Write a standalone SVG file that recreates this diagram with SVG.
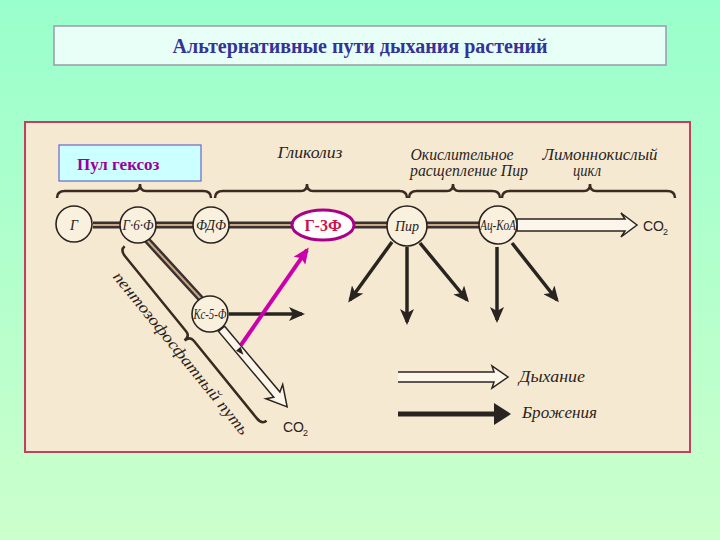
<svg xmlns="http://www.w3.org/2000/svg" width="720" height="540" viewBox="0 0 720 540">
<defs>
<linearGradient id="bg" x1="0" y1="0" x2="0" y2="1">
<stop offset="0" stop-color="#99FFCC"/>
<stop offset="1" stop-color="#CCFFCC"/>
</linearGradient>
<marker id="ah" markerUnits="userSpaceOnUse" markerWidth="16" markerHeight="14" refX="13" refY="7" orient="auto">
<path d="M0 0 L16 7 L0 14 L4 7 Z" fill="#2a2420"/>
</marker>
<marker id="mh" markerUnits="userSpaceOnUse" markerWidth="16" markerHeight="14" refX="13" refY="7" orient="auto">
<path d="M0 0 L16 7 L0 14 L3 7 Z" fill="#CC00AA"/>
</marker>
<style>
.lbl{font-family:"Liberation Serif","DejaVu Serif",serif;font-style:italic;fill:#2a2420}
.nd{fill:#FAF0DE;stroke:#2a2420;stroke-width:1.6}
.ntx{font-family:"Liberation Serif","DejaVu Serif",serif;font-style:italic;font-size:14px;fill:#2a2420;text-anchor:middle}
.brace{fill:none;stroke:#3a2a20;stroke-width:2.5}
.main{fill:none;stroke:#3a3030;stroke-width:7}
.inner{fill:none;stroke:#c8a882;stroke-width:2}
.dark{fill:none;stroke:#2a2420;stroke-width:3.5;marker-end:url(#ah)}
.hol{fill:#FCF6EA;stroke:#2a2420;stroke-width:1.5}
.co{font-family:"Liberation Sans Narrow","Liberation Sans",sans-serif;font-size:14px;fill:#2a2420}
.sub{font-family:"Liberation Sans Narrow","Liberation Sans",sans-serif;font-size:9px;fill:#2a2420}
</style>
</defs>
<rect x="0" y="0" width="720" height="540" fill="url(#bg)"/>

<g id="title">
<rect x="54" y="26" width="612" height="39" fill="#E8FFF8" stroke="#9a9aaa" stroke-width="1.5"/>
<text x="360" y="53" text-anchor="middle" font-family="Liberation Serif, DejaVu Serif, serif" font-weight="bold" font-size="20" fill="#333399">Альтернативные пути дыхания растений</text>
</g>

<g id="panel">
<rect x="25" y="122" width="665" height="330" fill="#F6E9D2" stroke="#C04060" stroke-width="2"/>
</g>

<g id="braces">
<path class="brace" d="M57 198 Q57 191 65 191 L134 191 Q140 191 140 184 Q140 191 146 191 L203 191 Q211 191 211 198"/>
<path class="brace" d="M215 198 Q215 191 223 191 L301 191 Q307 191 307 184 Q307 191 313 191 L399 191 Q407 191 407 198"/>
<path class="brace" d="M409 198 Q409 191 417 191 L447 191 Q453 191 453 184 Q453 191 459 191 L492 191 Q500 191 500 198"/>
<path class="brace" d="M502 198 Q502 191 510 191 L584 191 Q590 191 590 184 Q590 191 596 191 L667 191 Q675 191 675 198"/>
<g transform="translate(120 250) rotate(50.9)">
<path class="brace" d="M0 -6 Q0 0 8 0 L105 0 Q111 0 111 7 Q111 0 117 0 L217 0 Q225 0 225 -6"/>
<text class="lbl" x="16" y="23" font-size="16" textLength="205" lengthAdjust="spacingAndGlyphs">пентозофосфатный путь</text>
</g>
</g>

<g id="labels">
<text class="lbl" x="310" y="158" font-size="16" text-anchor="middle" textLength="65" lengthAdjust="spacingAndGlyphs">Гликолиз</text>
<text class="lbl" x="462" y="160" font-size="16" text-anchor="middle" textLength="103" lengthAdjust="spacingAndGlyphs">Окислительное</text>
<text class="lbl" x="469" y="176" font-size="16" text-anchor="middle" textLength="118" lengthAdjust="spacingAndGlyphs">расщепление Пир</text>
<text class="lbl" x="600" y="160" font-size="16" text-anchor="middle" textLength="115" lengthAdjust="spacingAndGlyphs">Лимоннокислый</text>
<text class="lbl" x="587" y="176" font-size="16" text-anchor="middle" textLength="28" lengthAdjust="spacingAndGlyphs">цикл</text>
<text class="co" x="643" y="231">CO</text>
<text class="sub" x="663" y="235">2</text>
<text class="co" x="283" y="432">CO</text>
<text class="sub" x="303" y="436">2</text>
</g>

<g id="connectors">
<path class="main" d="M93 225 L480 225"/>
<path class="inner" d="M93 225 L480 225"/>
<path class="main" d="M147 240 L201 299"/>
<path class="inner" d="M147 240 L201 299"/>
<path class="hol" d="M517 219 L625 219 L621 213 L637 225 L621 237 L625 231 L517 231 Z"/>
<g transform="translate(210 315) rotate(50)">
<path class="hol" d="M18 -4 L104 -4 L100 -11 L120 0 L100 11 L104 4 L18 4 Z"/>
<path d="M44 -3 L52 0 L44 3 Z" fill="#2a2420"/>
</g>
<path class="dark" d="M229 314 L302 314"/>
<path class="dark" d="M392 242 L350 300"/>
<path class="dark" d="M407 247 L407 322"/>
<path class="dark" d="M420 243 L467 300"/>
<path class="dark" d="M497 247 L497 320"/>
<path class="dark" d="M512 243 L557 300"/>
<path d="M241 345 L307 250" fill="none" stroke="#CC00AA" stroke-width="4" marker-end="url(#mh)"/>
</g>

<g id="node-G"><circle class="nd" cx="74" cy="224" r="18"/><text class="ntx" x="74" y="230" font-size="16">Г</text></g>
<g id="node-G6F"><circle class="nd" cx="138" cy="225" r="18"/><text class="ntx" x="138" y="230" textLength="31" lengthAdjust="spacingAndGlyphs">Г·6·Ф</text></g>
<g id="node-FDF"><circle class="nd" cx="211" cy="225" r="18"/><text class="ntx" x="211" y="230" textLength="30" lengthAdjust="spacingAndGlyphs">ФДФ</text></g>
<g id="node-G3F"><ellipse cx="323" cy="225" rx="31" ry="15" fill="#FFFFFF" stroke="#AA0088" stroke-width="3"/><text x="323" y="231" text-anchor="middle" font-family="Liberation Serif, DejaVu Serif, serif" font-weight="bold" font-size="16" fill="#CC1150">Г-3Ф</text></g>
<g id="node-Pir"><circle class="nd" cx="407" cy="226" r="20"/><text class="ntx" x="407" y="231" font-size="15">Пир</text></g>
<g id="node-AcCoA"><circle class="nd" cx="498" cy="225" r="19"/><text class="ntx" x="498" y="230" font-size="13" textLength="36" lengthAdjust="spacingAndGlyphs">Ац-КоА</text></g>
<g id="node-Ks5F"><circle class="nd" cx="210" cy="314" r="18"/><text class="ntx" x="210" y="319" font-size="13" textLength="33" lengthAdjust="spacingAndGlyphs">Кс-5-Ф</text></g>

<g id="pool">
<rect x="59" y="145" width="142" height="36" fill="#CCFFFF" stroke="#6666CC" stroke-width="1.2"/>
<text x="77" y="170" font-family="Liberation Serif, DejaVu Serif, serif" font-weight="bold" font-size="17" fill="#990099">Пул гексоз</text>
</g>

<g id="legend">
<path class="hol" d="M398 372 L494 372 L492 366 L508 377 L492 388 L494 382 L398 382"/>
<text class="lbl" x="519" y="382" font-size="16" textLength="66" lengthAdjust="spacingAndGlyphs">Дыхание</text>
<path d="M398 414 L496 414" stroke="#2a2420" stroke-width="5"/>
<path d="M494 403 L511 414 L494 425 Z" fill="#2a2420"/>
<text class="lbl" x="522" y="418" font-size="16" textLength="75" lengthAdjust="spacingAndGlyphs">Брожения</text>
</g>
</svg>
